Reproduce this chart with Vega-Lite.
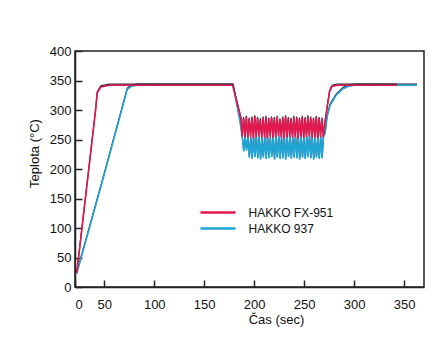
{
  "$schema": "https://vega.github.io/schema/vega-lite/v6.json",
  "autosize": {"type": "none"},
  "padding": {"left": 75, "top": 51, "right": 8, "bottom": 61},
  "width": 349,
  "height": 236,
  "background": "white",
  "config": {
    "font": "Liberation Sans",
    "view": {"stroke": "#222", "strokeWidth": 1.5},
    "axis": {"grid": false, "domainColor": "#222", "domainWidth": 1.5, "tickColor": "#222", "tickWidth": 1.5, "labelColor": "#111", "titleColor": "#111", "labelFontSize": 13, "titleFontSize": 13, "titleFontWeight": "normal"}
  },
  "datasets": {
    "fx951": [
      {"t": 3, "T": 25, "s": "HAKKO FX-951"}, {"t": 35, "T": 300, "s": "HAKKO FX-951"}, {"t": 38, "T": 331, "s": "HAKKO FX-951"}, {"t": 44, "T": 341, "s": "HAKKO FX-951"}, {"t": 55, "T": 344, "s": "HAKKO FX-951"}, {"t": 178.5, "T": 344, "s": "HAKKO FX-951"},
      {"t": 187, "T": 286, "s": "HAKKO FX-951"}, {"t": 188, "T": 257, "s": "HAKKO FX-951"},
      {"t": 189.4, "T": 288, "s": "HAKKO FX-951"}, {"t": 190.8, "T": 256, "s": "HAKKO FX-951"}, {"t": 192.2, "T": 290, "s": "HAKKO FX-951"}, {"t": 193.6, "T": 255, "s": "HAKKO FX-951"}, {"t": 195.0, "T": 287, "s": "HAKKO FX-951"}, {"t": 196.4, "T": 257, "s": "HAKKO FX-951"},
      {"t": 197.8, "T": 289, "s": "HAKKO FX-951"}, {"t": 199.2, "T": 254, "s": "HAKKO FX-951"}, {"t": 200.6, "T": 291, "s": "HAKKO FX-951"}, {"t": 202.0, "T": 256, "s": "HAKKO FX-951"}, {"t": 203.4, "T": 288, "s": "HAKKO FX-951"}, {"t": 204.8, "T": 258, "s": "HAKKO FX-951"},
      {"t": 206.2, "T": 286, "s": "HAKKO FX-951"}, {"t": 207.6, "T": 255, "s": "HAKKO FX-951"}, {"t": 209.0, "T": 289, "s": "HAKKO FX-951"}, {"t": 210.4, "T": 256, "s": "HAKKO FX-951"}, {"t": 211.8, "T": 290, "s": "HAKKO FX-951"}, {"t": 213.2, "T": 254, "s": "HAKKO FX-951"},
      {"t": 214.6, "T": 287, "s": "HAKKO FX-951"}, {"t": 216.0, "T": 257, "s": "HAKKO FX-951"}, {"t": 217.4, "T": 289, "s": "HAKKO FX-951"}, {"t": 218.8, "T": 255, "s": "HAKKO FX-951"}, {"t": 220.2, "T": 288, "s": "HAKKO FX-951"}, {"t": 221.6, "T": 256, "s": "HAKKO FX-951"},
      {"t": 223.0, "T": 290, "s": "HAKKO FX-951"}, {"t": 224.4, "T": 258, "s": "HAKKO FX-951"}, {"t": 225.8, "T": 286, "s": "HAKKO FX-951"}, {"t": 227.2, "T": 255, "s": "HAKKO FX-951"}, {"t": 228.6, "T": 289, "s": "HAKKO FX-951"}, {"t": 230.0, "T": 254, "s": "HAKKO FX-951"},
      {"t": 231.4, "T": 291, "s": "HAKKO FX-951"}, {"t": 232.8, "T": 256, "s": "HAKKO FX-951"}, {"t": 234.2, "T": 288, "s": "HAKKO FX-951"}, {"t": 235.6, "T": 257, "s": "HAKKO FX-951"}, {"t": 237.0, "T": 287, "s": "HAKKO FX-951"}, {"t": 238.4, "T": 255, "s": "HAKKO FX-951"},
      {"t": 239.8, "T": 290, "s": "HAKKO FX-951"}, {"t": 241.2, "T": 256, "s": "HAKKO FX-951"}, {"t": 242.6, "T": 289, "s": "HAKKO FX-951"}, {"t": 244.0, "T": 254, "s": "HAKKO FX-951"}, {"t": 245.4, "T": 287, "s": "HAKKO FX-951"}, {"t": 246.8, "T": 257, "s": "HAKKO FX-951"},
      {"t": 248.2, "T": 290, "s": "HAKKO FX-951"}, {"t": 249.6, "T": 255, "s": "HAKKO FX-951"}, {"t": 251.0, "T": 288, "s": "HAKKO FX-951"}, {"t": 252.4, "T": 256, "s": "HAKKO FX-951"}, {"t": 253.8, "T": 291, "s": "HAKKO FX-951"}, {"t": 255.2, "T": 258, "s": "HAKKO FX-951"},
      {"t": 256.6, "T": 289, "s": "HAKKO FX-951"}, {"t": 258.0, "T": 255, "s": "HAKKO FX-951"}, {"t": 259.4, "T": 287, "s": "HAKKO FX-951"}, {"t": 260.8, "T": 256, "s": "HAKKO FX-951"}, {"t": 262.2, "T": 290, "s": "HAKKO FX-951"}, {"t": 263.6, "T": 254, "s": "HAKKO FX-951"},
      {"t": 265.0, "T": 288, "s": "HAKKO FX-951"}, {"t": 266.4, "T": 257, "s": "HAKKO FX-951"}, {"t": 267.8, "T": 287, "s": "HAKKO FX-951"}, {"t": 269.2, "T": 256, "s": "HAKKO FX-951"},
      {"t": 270.4, "T": 275, "s": "HAKKO FX-951"}, {"t": 273.5, "T": 311, "s": "HAKKO FX-951"}, {"t": 275.5, "T": 333, "s": "HAKKO FX-951"}, {"t": 278, "T": 342, "s": "HAKKO FX-951"}, {"t": 283, "T": 344, "s": "HAKKO FX-951"}, {"t": 343, "T": 344, "s": "HAKKO FX-951"}
    ],
    "h937": [
      {"t": 3, "T": 25, "s": "HAKKO 937"}, {"t": 50, "T": 193, "s": "HAKKO 937"}, {"t": 73, "T": 337, "s": "HAKKO 937"}, {"t": 77, "T": 342, "s": "HAKKO 937"}, {"t": 82, "T": 344, "s": "HAKKO 937"}, {"t": 179, "T": 344, "s": "HAKKO 937"},
      {"t": 186, "T": 281, "s": "HAKKO 937"}, {"t": 188.5, "T": 250, "s": "HAKKO 937"},
      {"t": 189.6, "T": 232, "s": "HAKKO 937"}, {"t": 191.0, "T": 256, "s": "HAKKO 937"}, {"t": 192.4, "T": 233, "s": "HAKKO 937"}, {"t": 193.8, "T": 257, "s": "HAKKO 937"}, {"t": 195.2, "T": 221, "s": "HAKKO 937"}, {"t": 196.6, "T": 255, "s": "HAKKO 937"},
      {"t": 198.0, "T": 219, "s": "HAKKO 937"}, {"t": 199.4, "T": 256, "s": "HAKKO 937"}, {"t": 200.8, "T": 222, "s": "HAKKO 937"}, {"t": 202.2, "T": 258, "s": "HAKKO 937"}, {"t": 203.6, "T": 220, "s": "HAKKO 937"}, {"t": 205.0, "T": 256, "s": "HAKKO 937"},
      {"t": 206.4, "T": 218, "s": "HAKKO 937"}, {"t": 207.8, "T": 255, "s": "HAKKO 937"}, {"t": 209.2, "T": 221, "s": "HAKKO 937"}, {"t": 210.6, "T": 257, "s": "HAKKO 937"}, {"t": 212.0, "T": 219, "s": "HAKKO 937"}, {"t": 213.4, "T": 256, "s": "HAKKO 937"},
      {"t": 214.8, "T": 220, "s": "HAKKO 937"}, {"t": 216.2, "T": 255, "s": "HAKKO 937"}, {"t": 217.6, "T": 222, "s": "HAKKO 937"}, {"t": 219.0, "T": 257, "s": "HAKKO 937"}, {"t": 220.4, "T": 218, "s": "HAKKO 937"}, {"t": 221.8, "T": 256, "s": "HAKKO 937"},
      {"t": 223.2, "T": 221, "s": "HAKKO 937"}, {"t": 224.6, "T": 258, "s": "HAKKO 937"}, {"t": 226.0, "T": 219, "s": "HAKKO 937"}, {"t": 227.4, "T": 255, "s": "HAKKO 937"}, {"t": 228.8, "T": 220, "s": "HAKKO 937"}, {"t": 230.2, "T": 256, "s": "HAKKO 937"},
      {"t": 231.6, "T": 218, "s": "HAKKO 937"}, {"t": 233.0, "T": 257, "s": "HAKKO 937"}, {"t": 234.4, "T": 222, "s": "HAKKO 937"}, {"t": 235.8, "T": 256, "s": "HAKKO 937"}, {"t": 237.2, "T": 219, "s": "HAKKO 937"}, {"t": 238.6, "T": 255, "s": "HAKKO 937"},
      {"t": 240.0, "T": 221, "s": "HAKKO 937"}, {"t": 241.4, "T": 257, "s": "HAKKO 937"}, {"t": 242.8, "T": 220, "s": "HAKKO 937"}, {"t": 244.2, "T": 256, "s": "HAKKO 937"}, {"t": 245.6, "T": 218, "s": "HAKKO 937"}, {"t": 247.0, "T": 258, "s": "HAKKO 937"},
      {"t": 248.4, "T": 221, "s": "HAKKO 937"}, {"t": 249.8, "T": 255, "s": "HAKKO 937"}, {"t": 251.2, "T": 219, "s": "HAKKO 937"}, {"t": 252.6, "T": 256, "s": "HAKKO 937"}, {"t": 254.0, "T": 222, "s": "HAKKO 937"}, {"t": 255.4, "T": 257, "s": "HAKKO 937"},
      {"t": 256.8, "T": 220, "s": "HAKKO 937"}, {"t": 258.2, "T": 256, "s": "HAKKO 937"}, {"t": 259.6, "T": 218, "s": "HAKKO 937"}, {"t": 261.0, "T": 255, "s": "HAKKO 937"}, {"t": 262.4, "T": 221, "s": "HAKKO 937"}, {"t": 263.8, "T": 257, "s": "HAKKO 937"},
      {"t": 265.2, "T": 219, "s": "HAKKO 937"}, {"t": 266.6, "T": 256, "s": "HAKKO 937"}, {"t": 268.0, "T": 220, "s": "HAKKO 937"}, {"t": 269.4, "T": 258, "s": "HAKKO 937"},
      {"t": 271, "T": 262, "s": "HAKKO 937"}, {"t": 273, "T": 290, "s": "HAKKO 937"}, {"t": 276, "T": 310, "s": "HAKKO 937"}, {"t": 282, "T": 327, "s": "HAKKO 937"}, {"t": 289, "T": 338, "s": "HAKKO 937"}, {"t": 295, "T": 342.5, "s": "HAKKO 937"}, {"t": 300, "T": 344, "s": "HAKKO 937"}, {"t": 363, "T": 344, "s": "HAKKO 937"}
    ]
  },
  "encoding": {
    "x": {"field": "t", "type": "quantitative", "scale": {"domain": [0, 50, 370], "range": [0, 29.3, 349], "nice": false, "zero": false},
      "axis": {"values": [0, 50, 100, 150, 200, 250, 300, 350], "tickSize": -7, "labelPadding": 18, "labelOverlap": false, "title": "Čas (sec)", "titleX": 201, "titleY": 26, "titleBaseline": "top"}},
    "y": {"field": "T", "type": "quantitative", "scale": {"domain": [0, 400], "nice": false},
      "axis": {"values": [0, 50, 100, 150, 200, 250, 300, 350, 400], "tickSize": -7, "labelPadding": 11, "labelFlush": false, "labelOverlap": false, "title": "Teplota (°C)", "titleX": -41, "titleY": 102, "titleBaseline": "middle"}}
  },
  "layer": [
    {
      "data": {"name": "h937"},
      "mark": {"type": "line", "color": "#2a2030", "strokeWidth": 1.2}
    },
    {
      "data": {"name": "h937"},
      "mark": {"type": "line", "strokeWidth": 1.6, "yOffset": 1.2},
      "encoding": {
        "color": {"field": "s", "type": "nominal",
          "scale": {"domain": ["HAKKO FX-951", "HAKKO 937"], "range": ["#e3174f", "#1ea5d6"]},
          "legend": {"title": null, "orient": "none", "legendX": 136.5, "legendY": 155, "symbolType": "M-3.5,0H3.5", "symbolSize": 100, "symbolStrokeWidth": 2.5, "labelFontSize": 12, "labelOffset": 24, "rowPadding": 3, "labelColor": "#111", "padding": 0}}
      }
    },
    {
      "data": {"name": "fx951"},
      "mark": {"type": "line", "color": "#2a2030", "strokeWidth": 1.2}
    },
    {
      "data": {"name": "fx951"},
      "mark": {"type": "line", "strokeWidth": 1.6, "yOffset": 1.2},
      "encoding": {
        "color": {"field": "s", "type": "nominal"}
      }
    }
  ]
}
